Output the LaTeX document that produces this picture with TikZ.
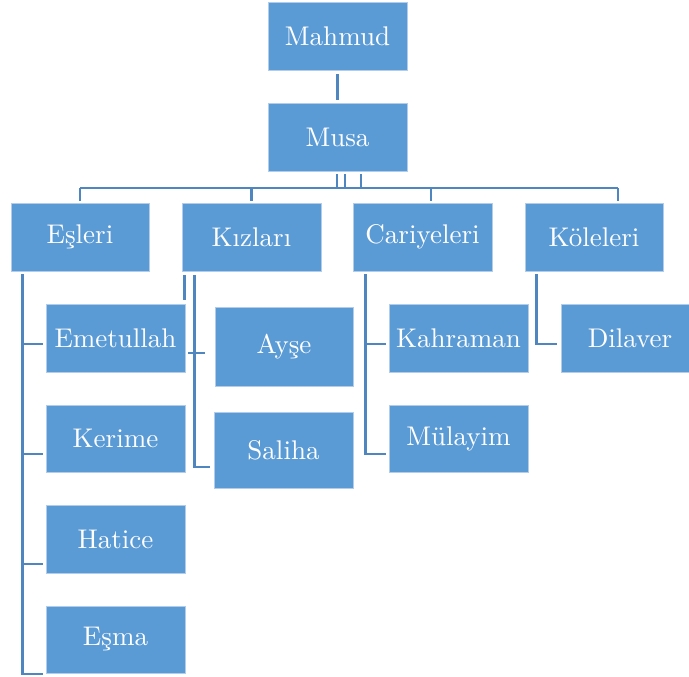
\documentclass[tikz,border=0pt]{standalone}
\usepackage{fontspec}
\setmainfont{lmroman10}[Extension=.otf, UprightFont=*-regular, BoldFont=*-bold]
\usepackage{tikz}
\definecolor{boxfill}{RGB}{91,155,213}
\definecolor{boxedge}{RGB}{178,204,234}
\definecolor{linkcol}{RGB}{79,134,192}

\begin{document}
\begin{tikzpicture}[x=1pt,y=-1pt,
    box/.style={draw=boxedge, line width=0.8pt, fill=boxfill, text=white,
      minimum width=139pt, minimum height=68pt, inner sep=0pt,
      font=\fontsize{27}{31}\selectfont},
    link/.style={draw=linkcol, line width=2.8pt}]
    \useasboundingbox (0,0) rectangle (689,677);
    % top
    \node [box] (mahmud) at (337.5,36.5) {Mahmud};
    \node [box] (musa) at (337.5,137) {Musa};
    % second row
    \node [box, minimum width=138pt] (esleri) at (80,237) {Eşleri};
    \node [box] (kizlari) at (251.5,237) {Kızları};
    \node [box] (cariyeleri) at (422.5,237) {Cariyeleri};
    \node [box, minimum width=138pt] (koleleri) at (594,237) {Köleleri};
    % third row
    \node [box] (emetullah) at (115.5,338) {Emetullah};
    \node [box, minimum height=67pt] (kerime) at (115.5,438.5) {Kerime};
    \node [box] (hatice) at (115.5,539.5) {Hatice};
    \node [box, minimum height=67pt] (esma) at (115.5,639.5) {Eşma};
    \node [box, minimum width=138pt, minimum height=79pt] (ayse) at (284,346.5) {Ayşe};
    \node [box, minimum height=76pt] (saliha) at (283.5,450) {Saliha};
    \node [box] (kahraman) at (458.5,338) {Kahraman};
    \node [box, minimum height=67pt] (mulayim) at (458.5,438.5) {Mülayim};
    \node [box, minimum width=138pt] (dilaver) at (630,338) {Dilaver};

    % connectors
    \coordinate (bus) at (337,188);
    \draw [link] ([yshift=-3pt]mahmud.south) -- ([yshift=3pt]musa.north);
    \foreach \dx in {-0.5,7.5,23.5}
      \draw [link] ([xshift=\dx pt, yshift=-3pt]musa.south) -- ([xshift=\dx pt]musa.south |- bus);
    \draw [link] (esleri.north |- bus) -- ([xshift=24pt]koleleri.north |- bus);
    \foreach \n/\dx in {esleri/0, kizlari/0, cariyeleri/8.5, koleleri/24}
      \draw [link] ([xshift=\dx pt]\n.north |- bus) -- ([xshift=\dx pt, yshift=2pt]\n.north);

    \coordinate (esspine) at ([xshift=12pt, yshift=-3pt]esleri.south west);
    \foreach \n/\dy in {emetullah/6, kerime/15.5, hatice/24.5, esma/34.5}
      \draw [link] ([xshift=-3pt, yshift=-\dy pt]\n.west) -| (esspine);

    \coordinate (kzstub) at ([xshift=3pt, yshift=-29pt]kizlari.south west);
    \draw [link] ([xshift=3pt, yshift=-4pt]kizlari.south west) -- (kzstub);
    \draw [link] ([xshift=13pt, yshift=-4pt]kizlari.south west) |- ([xshift=-4pt, yshift=-17pt]saliha.west);
    \draw [link] ([xshift=-10pt, yshift=-6.5pt]ayse.west) -- ([xshift=-27pt, yshift=-6.5pt]ayse.west);

    \coordinate (caspine) at ([xshift=13pt, yshift=-3pt]cariyeleri.south west);
    \foreach \n/\dy in {kahraman/6, mulayim/15.5}
      \draw [link] ([xshift=-3pt, yshift=-\dy pt]\n.west) -| (caspine);

    \coordinate (kospine) at ([xshift=12pt, yshift=-3pt]koleleri.south west);
    \draw [link] ([xshift=-4pt, yshift=-6pt]dilaver.west) -| (kospine);
\end{tikzpicture}
\end{document}
